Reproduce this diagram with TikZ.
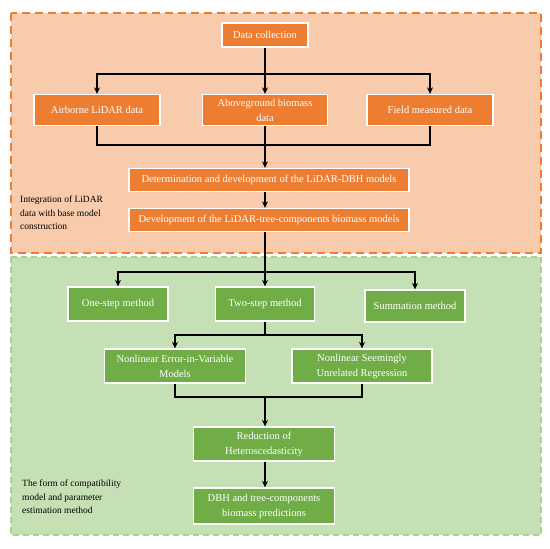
\documentclass[tikz,border=0pt]{standalone}
\usepackage{fontspec}
\setmainfont{Liberation Serif}
\usepackage{xcolor}
\usetikzlibrary{arrows.meta}
\definecolor{orbg}{HTML}{F8CBAD}
\definecolor{orline}{HTML}{ED7D31}
\definecolor{orbox}{HTML}{ED7D31}
\definecolor{grbg}{HTML}{C5E0B4}
\definecolor{grline}{HTML}{A9D18E}
\definecolor{grbox}{HTML}{70AD47}
\tikzset{
  box/.style={draw=white, line width=1.3pt, text=white, align=center,
    inner sep=1pt, font=\fontsize{10.5}{15}\selectfont},
  obox/.style={box, fill=orbox},
  gbox/.style={box, fill=grbox},
  arr/.style={-{Stealth[length=6.5pt,width=6pt]}, line width=1.3pt},
  ln/.style={line width=1.3pt},
  lab/.style={align=left, anchor=west, inner sep=0pt,
    font=\fontsize{9.5}{13.5}\selectfont}
}

\begin{document}
\begin{tikzpicture}[x=1pt,y=-1pt]
  \useasboundingbox (0,0) rectangle (550,549);
  % two stages
  \fill[orbg] (11,13) rectangle (541,253);
  \draw[orline, line width=1.6pt, dash pattern=on 8pt off 5pt] (11,13) rectangle (541,253);
  \fill[grbg] (11,257) rectangle (541,535);
  \draw[grline, line width=1.6pt, dash pattern=on 6pt off 4pt] (11,257) rectangle (541,535);

  % upper part
  \node[obox, minimum width=86pt, minimum height=24pt] (dc) at (265,35) {Data collection};
  \node[obox, minimum width=126pt, minimum height=31pt] (air) at (97,110) {Airborne LiDAR data};
  \node[obox, minimum width=125pt, minimum height=31pt] (agb) at (265,110) {Aboveground biomass\\data};
  \node[obox, minimum width=126pt, minimum height=31pt] (field) at (430,110) {Field measured data};
  \node[obox, minimum width=280pt, minimum height=23pt] (det) at (269,180) {Determination and development of the LiDAR-DBH models};
  \node[obox, minimum width=280pt, minimum height=23pt] (dev) at (269,220) {Development of the LiDAR-tree-components biomass models};
  \node[lab] (lab1) at (20,213) {Integration of LiDAR\\data with base model\\construction};

  \coordinate (s1) at (265,74);
  \coordinate (j1) at (265,145);
  \draw[ln] (dc.south) -- (s1);
  \draw[arr] (s1) -| (air.north);
  \draw[arr] (s1) -- (agb.north);
  \draw[arr] (s1) -| (field.north);
  \draw[ln] (air.south) |- (j1);
  \draw[ln] (field.south) |- (j1);
  \draw[ln] (agb.south) -- (j1);
  \draw[arr] (j1) -- (det.north -| j1);
  \draw[arr] (det.south -| j1) -- (dev.north -| j1);

  % lower part
  \node[gbox, minimum width=100pt, minimum height=34pt] (one) at (118,304) {One-step method};
  \node[gbox, minimum width=99pt, minimum height=34pt] (two) at (265,304) {Two-step method};
  \node[gbox, minimum width=100pt, minimum height=32pt] (summ) at (415,306) {Summation method};
  \node[gbox, minimum width=141pt, minimum height=34pt] (eiv) at (175,366) {Nonlinear Error-in-Variable\\Models};
  \node[gbox, minimum width=140pt, minimum height=34pt] (nsur) at (362,366) {Nonlinear Seemingly\\Unrelated Regression};
  \node[gbox, minimum width=141pt, minimum height=34pt] (red) at (264,444) {Reduction of\\Heteroscedasticity};
  \node[gbox, minimum width=141pt, minimum height=36pt] (pred) at (264,506) {DBH and tree-components\\biomass predictions};
  \node[lab] (lab2) at (22,497) {The form of compatibility\\model and parameter\\estimation method};

  \coordinate (s2) at (265,272);
  \coordinate (s3) at (265,335);
  \coordinate (j2) at (265,397);
  \draw[ln] (dev.south -| s2) -- (s2);
  \draw[arr] (s2) -| (one.north);
  \draw[arr] (s2) -- (two.north);
  \draw[arr] (s2) -| (summ.north);
  \draw[ln] (two.south) -- (s3);
  \draw[arr] (s3) -| (eiv.north);
  \draw[arr] (s3) -| (nsur.north);
  \draw[ln] (eiv.south) |- (j2);
  \draw[ln] (nsur.south) |- (j2);
  \draw[arr] (j2) -- (red.north -| j2);
  \draw[arr] (red.south -| j2) -- (pred.north -| j2);
\end{tikzpicture}
\end{document}
